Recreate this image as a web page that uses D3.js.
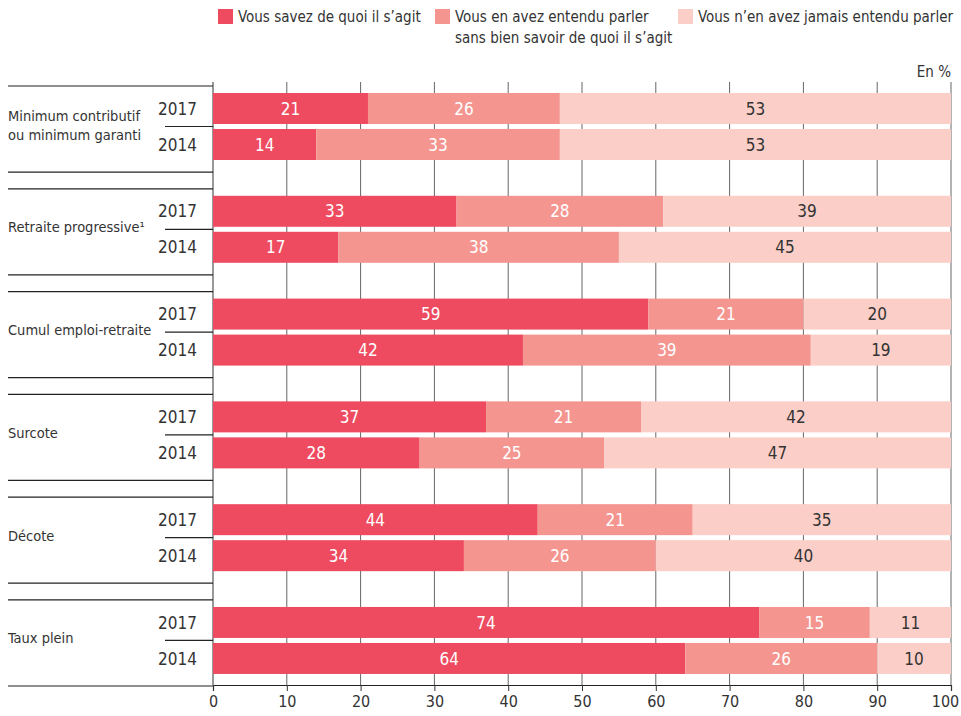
<!DOCTYPE html>
<html>
<head>
<meta charset="utf-8">
<script src="https://cdn.jsdelivr.net/npm/d3@7"></script>
<style>
  body { margin: 0; background: #fff; }
  svg text { font-family: "Liberation Sans Narrow", "DejaVu Sans Condensed", sans-serif; fill: #333; }
</style>
</head>
<body>
<div id="chart"></div>
<script>
// data
var categories = ["Minimum contributif|ou minimum garanti", "Retraite progressive¹", "Cumul emploi-retraite", "Surcote", "Décote", "Taux plein"];
var years = ["2017", "2014"];
var known2017 = [21, 33, 59, 37, 44, 74];
var heard2017 = [26, 28, 21, 21, 21, 15];
var never2017 = [53, 39, 20, 42, 35, 11];
var known2014 = [14, 17, 42, 28, 34, 64];
var heard2014 = [33, 38, 39, 25, 26, 26];
var never2014 = [53, 45, 19, 47, 40, 10];
var seriesKeys = ["known", "heard", "never"];
var seriesLabels = ["Vous savez de quoi il s’agit", "Vous en avez entendu parler|sans bien savoir de quoi il s’agit", "Vous n’en avez jamais entendu parler"];
var tickValues = [0, 10, 20, 30, 40, 50, 60, 70, 80, 90, 100];

var colors = ["#ee4b60", "#f4958f", "#fbcec7"];
var textColors = ["#fff", "#fff", "#333"];

var w = 961, h = 716,
    padLeft = 8,
    x0 = 213, x1 = 951,
    padTop = 86, padBottom = 686;

var rows = [];
categories.forEach(function (c, i) {
  rows.push({cat: c, year: "2017", known: known2017[i], heard: heard2017[i], never: never2017[i]});
  rows.push({cat: c, year: "2014", known: known2014[i], heard: heard2014[i], never: never2014[i]});
});

var x = d3.scaleLinear().domain([0, 100]).range([x0, x1]);
var y = d3.scaleBand().domain(categories).range([padTop, padBottom]).paddingInner(0.163);
var yy = d3.scaleBand().domain(years).range([7, 74]).paddingInner(0.139);

var svg = d3.select("#chart").append("svg")
  .attr("width", w)
  .attr("height", h);

// gridlines
svg.append("g").selectAll("line").data(tickValues).enter()
  .append("line")
  .attr("x1", function (d) { return x(d); })
  .attr("x2", function (d) { return x(d); })
  .attr("y1", padTop - 4)
  .attr("y2", padBottom - 1)
  .attr("stroke", function (d) { return d === 0 ? "#333" : "#666"; })
  .attr("stroke-width", 1);

// bars
var stacked = d3.stack().keys(seriesKeys)(rows);

svg.append("g").selectAll("g").data(stacked).enter()
  .append("g")
  .attr("fill", function (d, i) { return colors[i]; })
  .selectAll("rect").data(function (d) { return d; }).enter()
  .append("rect")
  .attr("x", function (d) { return x(d[0]); })
  .attr("width", function (d) { return x(d[1]) - x(d[0]); })
  .attr("y", function (d) { return y(d.data.cat) + yy(d.data.year); })
  .attr("height", yy.bandwidth());

svg.append("g").selectAll("g").data(stacked).enter()
  .append("g")
  .each(function (s, k) {
    d3.select(this).selectAll("text").data(s).enter()
      .append("text")
      .attr("x", function (d) { return (x(d[0]) + x(d[1])) / 2; })
      .attr("y", function (d) { return y(d.data.cat) + yy(d.data.year) + yy.bandwidth() / 2; })
      .attr("dy", "0.36em")
      .attr("text-anchor", "middle")
      .style("font-size", "17px")
      .style("fill", textColors[k])
      .text(function (d) { return d.data[s.key]; });
  });

// left panel lines and labels
var groups = svg.append("g").selectAll("g").data(categories).enter()
  .append("g")
  .attr("transform", function (d) { return "translate(0," + y(d) + ")"; });

groups.append("line")
  .attr("x1", padLeft).attr("x2", x0)
  .attr("y1", 0).attr("y2", 0)
  .attr("stroke", "#222").attr("stroke-width", 1.2);

groups.append("line")
  .attr("x1", padLeft).attr("x2", x0)
  .attr("y1", y.bandwidth()).attr("y2", y.bandwidth())
  .attr("stroke", "#222").attr("stroke-width", 1.2);

groups.append("line")
  .attr("x1", 165).attr("x2", x0)
  .attr("y1", (yy("2017") + yy.bandwidth() + yy("2014")) / 2)
  .attr("y2", (yy("2017") + yy.bandwidth() + yy("2014")) / 2)
  .attr("stroke", "#222").attr("stroke-width", 1.2);

groups.selectAll(".yr").data(years).enter()
  .append("text")
  .attr("class", "yr")
  .attr("x", 197)
  .attr("y", function (d) { return yy(d) + yy.bandwidth() / 2; })
  .attr("dy", "0.36em")
  .attr("text-anchor", "end")
  .style("font-size", "17px")
  .text(function (d) { return d; });

groups.append("text")
  .attr("x", padLeft)
  .attr("y", (yy("2017") + yy("2014") + yy.bandwidth()) / 2)
  .style("font-size", "14.5px")
  .each(function (d) {
    var lines = d.split("|");
    var t = d3.select(this);
    lines.forEach(function (l, i) {
      t.append("tspan")
        .attr("x", padLeft)
        .attr("dy", i === 0 ? (0.2 - (lines.length - 1) * 0.6) + "em" : "1.35em")
        .text(l);
    });
  });

// x axis
var axis = svg.append("g")
  .attr("transform", "translate(0," + (padBottom - 1) + ")")
  .call(d3.axisBottom(x).tickValues(tickValues).tickSize(6).tickPadding(5));
axis.attr("font-family", null).attr("font-size", null);
axis.select(".domain").attr("stroke", "#222").attr("stroke-width", 1.2);
axis.selectAll(".tick line").attr("stroke", "#333");
axis.selectAll(".tick text")
  .style("font-size", "16px")
  .attr("fill", "#333")
  .attr("dx", function (d) { return d === 100 ? -6 : 0; });

svg.append("text")
  .attr("x", x1)
  .attr("y", 72)
  .attr("dy", "0.36em")
  .attr("text-anchor", "end")
  .style("font-size", "15px")
  .text("En %");

// legend
var legendX = [218, 435, 678];
var legend = svg.append("g").selectAll("g").data(seriesLabels).enter()
  .append("g")
  .attr("transform", function (d, i) { return "translate(" + legendX[i] + ",9)"; });

legend.append("rect")
  .attr("width", 15).attr("height", 15)
  .attr("fill", function (d, i) { return colors[i]; });

legend.append("text")
  .attr("x", 20)
  .attr("y", 8)
  .style("font-size", "15px")
  .each(function (d) {
    var t = d3.select(this);
    d.split("|").forEach(function (l, i) {
      t.append("tspan").attr("x", 20).attr("dy", i === 0 ? "0.36em" : "1.4em").text(l);
    });
  });
</script>
</body>
</html>
